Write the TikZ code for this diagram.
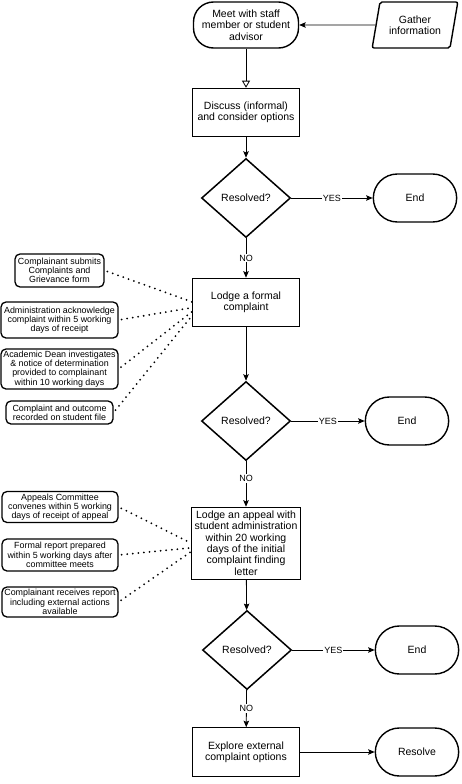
\documentclass[tikz,border=0pt]{standalone}
\usepackage{fontspec}
\setmainfont{Liberation Sans}
\usetikzlibrary{arrows.meta,shapes.geometric,shapes.misc}
\newcommand{\fsmain}{\fontsize{10.5}{11.3}\selectfont}
\newcommand{\fsnote}{\fontsize{8.9}{9.3}\selectfont}

\begin{document}
\begin{tikzpicture}[x=1pt,y=-1pt,->,>={Stealth[length=6.5pt,width=5.5pt,inset=1.2pt]},
      line width=0.8pt,
      proc/.style={rectangle,draw,line width=0.6pt,minimum width=107pt,
        minimum height=48pt,align=center,font=\fsmain,inner ysep=2pt},
      term/.style={rounded rectangle,draw,line width=1.4pt,minimum width=90pt,
        minimum height=48pt,font=\fsmain},
      dec/.style={diamond,draw,line width=1.5pt,minimum width=89pt,
        minimum height=79pt,font=\fsmain},
      note/.style={rectangle,rounded corners=5pt,draw,line width=1.3pt,
        align=center,font=\fsnote,inner sep=1pt},
      dots/.style={-,line width=2pt,dash pattern=on 0pt off 5.6pt,
        line cap=round,shorten <=3pt},
      lbl/.style={fill=white,font=\fontsize{9}{10}\selectfont,inner sep=1pt}]
      \useasboundingbox (0,0) rectangle (461,784);

      % main column
      \node[rectangle,rounded corners=20pt,draw,line width=1.4pt,minimum width=105pt,
        minimum height=46pt,align=center,font=\fsmain,inner sep=1pt] (meet) at (246, 25)
        {Meet with staff\\member or student\\advisor};
      \node[trapezium,trapezium left angle=74,trapezium right angle=106,
        trapezium stretches=true,rounded corners=2pt,draw,line width=1.4pt,
        minimum width=86pt,minimum height=46pt,align=center,font=\fsmain,inner sep=1pt]
        (gather) at (415, 25) {Gather\\information};
      \node[proc] (discuss) at (246, 112) {Discuss (informal)\\and consider options};
      \node[dec] (res1) at (246, 198) {Resolved?};
      \node[term] (end1) at (415, 198) {End};
      \node[proc] (lodge) at (246, 302) {Lodge a formal\\complaint};
      \node[dec] (res2) at (246, 421) {Resolved?};
      \node[term] (end2) at (407, 421) {End};
      \node[proc,minimum width=106pt,minimum height=72pt] (appeal) at (246, 543)
        {Lodge an appeal with\\student administration\\within 20 working\\days of the initial\\complaint finding\\letter};
      \node[dec] (res3) at (247, 650) {Resolved?};
      \node[term] (end3) at (417, 650) {End};
      \node[proc,minimum height=49pt] (explore) at (246, 752) {Explore external\\complaint options};
      \node[term] (resolve) at (417, 752) {Resolve};

      % complaint steps
      \node[note,minimum width=89pt,minimum height=33pt] (c1) at (59.5, 270.5)
        {Complainant submits\\Complaints and\\Grievance form};
      \node[note,minimum width=117pt,minimum height=36pt] (c2) at (59.5, 320)
        {Administration acknowledge\\complaint within 5 working\\days of receipt};
      \node[note,minimum width=117pt,minimum height=40pt] (c3) at (59.5, 369)
        {Academic Dean investigates\\\& notice of determination\\provided to complainant\\within 10 working days};
      \node[note,minimum width=107pt,minimum height=23pt] (c4) at (59.5, 412.5)
        {Complaint and outcome\\recorded on student file};

      % appeal steps
      \node[note,minimum width=116pt,minimum height=31pt] (a1) at (60, 507)
        {Appeals Committee\\convenes within 5 working\\days of receipt of appeal};
      \node[note,minimum width=116pt,minimum height=32pt] (a2) at (60, 555)
        {Formal report prepared\\within 5 working days after\\committee meets};
      \node[note,minimum width=116pt,minimum height=30pt] (a3) at (60, 602)
        {Complainant receives report\\including external actions\\available};

      \path
      (gather) edge (meet)
      (meet) edge [-{Triangle[open,length=7pt,width=8pt]}] (discuss)
      (discuss) edge (res1)
      (res1) edge node [lbl] {YES} (end1)
      (res1) edge node [lbl] {NO} (lodge)
      (lodge) edge (res2)
      (res2) edge node [lbl] {YES} (end2)
      (res2) edge node [lbl,pos=0.38] {NO} (appeal)
      (appeal) edge (res3)
      (res3) edge node [lbl] {YES} (end3)
      (res3) edge node [lbl] {NO} (explore)
      (explore) edge (resolve)
      ;

      \draw[dots] (c1.east) -- (lodge.180);
      \draw[dots] (c2.east) -- (lodge.186);
      \draw[dots] (c3.east) -- (lodge.190);
      \draw[dots] (c4.east) -- (lodge.194);
      \draw[dots] (a1.east) -- (appeal.180);
      \draw[dots] (a2.east) -- (appeal.185);
      \draw[dots] (a3.east) -- (appeal.189);
      \end{tikzpicture}
\end{document}
